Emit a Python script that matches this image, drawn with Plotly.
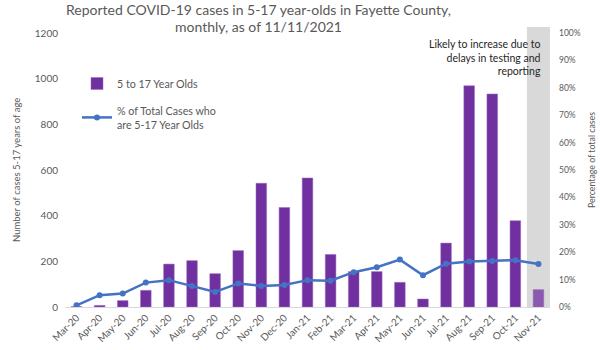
import plotly.graph_objects as go

months = ["Mar-20", "Apr-20", "May-20", "Jun-20", "Jul-20", "Aug-20", "Sep-20", "Oct-20",
          "Nov-20", "Dec-20", "Jan-21", "Feb-21", "Mar-21", "Apr-21", "May-21", "Jun-21",
          "Jul-21", "Aug-21", "Sep-21", "Oct-21", "Nov-21"]
cases = [2, 7, 28, 73, 188, 203, 146, 247, 542, 436, 565, 230, 155, 155, 108, 35,
         280, 969, 933, 378, 76]
pct = [0.006, 0.043, 0.049, 0.089, 0.098, 0.077, 0.055, 0.086, 0.077, 0.080, 0.098,
       0.096, 0.127, 0.145, 0.173, 0.116, 0.158, 0.166, 0.168, 0.171, 0.157]
left_ticks = [0, 200, 400, 600, 800, 1000, 1200]
right_ticks = [i / 10 for i in range(11)]

FONT = "Lato"
GREY = "#595959"

# plot area geometry (pixels)
L, R, T, B = 65, 50, 33, 43
PW, PH = 600 - L - R, 350 - T - B


def px_x(px):
    return (px - L) / PW


def px_y(py):
    return 1 - (py - T) / PH


bar_colors = ["#7030A0"] * (len(months) - 1) + ["#8A58AE"]

fig = go.Figure()
fig.add_trace(go.Bar(
    x=months, y=cases, name="5 to 17 Year Olds", legendgroup="a",
    marker=dict(color=bar_colors, line=dict(color="#9B6BC0", width=0.5)),
    width=0.46,
))
fig.add_trace(go.Scatter(
    x=months, y=pct, name="% of Total Cases who<br>are 5-17 Year Olds", legendgroup="b",
    yaxis="y2", mode="lines+markers",
    line=dict(color="#4472C4", width=2.5),
    marker=dict(color="#4472C4", size=6),
))

fig.add_shape(type="rect", xref="x", yref="paper", x0=19.5, x1=20.5, y0=0, y1=px_y(27),
              fillcolor="#D9D9D9", line=dict(width=0), layer="below")

annos = [
    dict(xref="paper", yref="paper", x=px_x(258), y=px_y(9), xanchor="center", yanchor="middle",
         showarrow=False, text="Reported COVID-19 cases in 5-17 year-olds in Fayette County,",
         font=dict(family=FONT, size=14, color=GREY)),
    dict(xref="paper", yref="paper", x=px_x(258), y=px_y(27), xanchor="center", yanchor="middle",
         showarrow=False, text="monthly, as of 11/11/2021",
         font=dict(family=FONT, size=14, color=GREY)),
    dict(xref="paper", yref="paper", x=px_x(543), y=px_y(36), xanchor="right", yanchor="top",
         align="right", showarrow=False,
         text="Likely to increase due to<br>delays in testing and<br>reporting",
         font=dict(family=FONT, size=10.5, color="#262626")),
    dict(xref="paper", yref="paper", x=px_x(16), y=px_y(170), xanchor="center", yanchor="middle",
         textangle=-90, showarrow=False, text="Number of cases 5-17 years of age",
         font=dict(family=FONT, size=9.5, color=GREY)),
    dict(xref="paper", yref="paper", x=px_x(591), y=px_y(160), xanchor="center", yanchor="middle",
         textangle=-90, showarrow=False, text="Percentage of total cases",
         font=dict(family=FONT, size=8.8, color=GREY)),
]

fig.update_layout(
    width=600, height=350,
    margin=dict(l=L, r=R, t=T, b=B, autoexpand=False),
    paper_bgcolor="white", plot_bgcolor="white",
    annotations=annos,
    font=dict(family=FONT, size=10, color=GREY),
    showlegend=True,
    legend=dict(
        x=px_x(77), y=px_y(69), xanchor="left", yanchor="top",
        bgcolor="rgba(0,0,0,0)", font=dict(family=FONT, size=10.7, color=GREY),
        tracegroupgap=9, itemwidth=30, traceorder="grouped",
    ),
    xaxis=dict(
        type="category", tickangle=-45, showgrid=False, showline=True, automargin=False,
        linecolor="#D9D9D9", linewidth=1, ticks="", tickfont=dict(size=10, color=GREY),
        range=[-0.5, 20.5],
    ),
    yaxis=dict(
        range=[0, 1200], tickvals=left_ticks, showgrid=False, zeroline=False, automargin=False,
        ticks="", tickfont=dict(size=10, color=GREY), ticklabelstandoff=6,
    ),
    yaxis2=dict(
        range=[0, 1], tickvals=right_ticks, tickformat=".0%", overlaying="y", side="right",
        showgrid=False, zeroline=False, ticks="", automargin=False,
        tickfont=dict(size=8.5, color=GREY), ticklabelstandoff=8,
    ),
)

fig.write_html("out.html")
